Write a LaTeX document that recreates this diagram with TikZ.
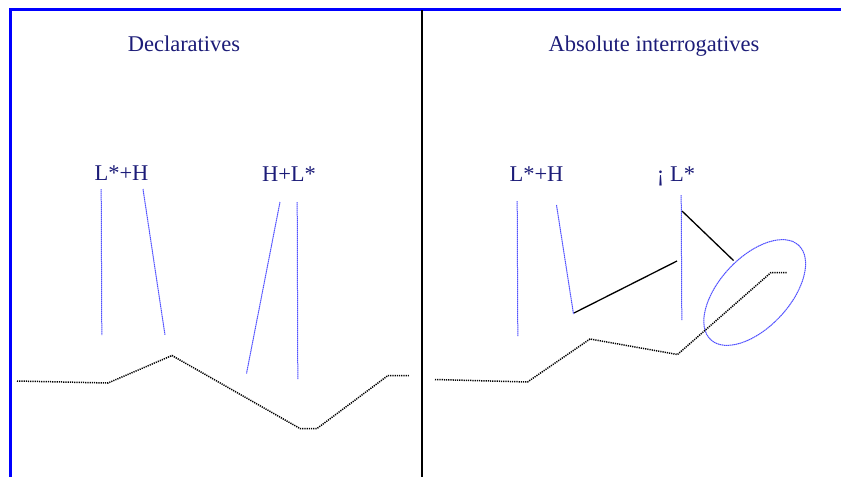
\documentclass[tikz,border=0pt]{standalone}
\usepackage{fontspec}
\setmainfont{Liberation Serif}
\usetikzlibrary{shapes.geometric}
\definecolor{navytxt}{RGB}{28,28,120}
\definecolor{tierblue}{RGB}{80,80,255}
\definecolor{framblue}{RGB}{0,0,255}
\begin{document}
\begin{tikzpicture}[x=1pt,y=-1pt,
  lbl/.style={text=navytxt,font=\fontsize{22.5}{26}\selectfont,anchor=base,inner sep=0pt},
  tier/.style={draw=tierblue,line width=1pt,dash pattern=on 1.5pt off 0.5pt},
  contour/.style={draw=black,line width=1.5pt,dash pattern=on 1.2pt off 1pt},
  link/.style={draw=black,line width=1.3pt},
  frame/.style={draw=framblue,line width=3pt}]
\useasboundingbox (0,0) rectangle (841,477);
% frame
\coordinate (fTR) at (841,9);
\coordinate (fTL) at (10,9);
\coordinate (fBL) at (10,477);
\draw[frame] (fTR) -- (fTL) -- (fBL);
\coordinate (dT) at (422,10);
\coordinate (dB) at (422,477);
\draw[black,line width=2pt] (dT) -- (dB);
% titles
\node[lbl] (t1) at (184,51) {Declaratives};
\node[lbl] (t2) at (654,51) {Absolute interrogatives};
% labels
\node[lbl] (l1) at (121.5,180) {L*+H};
\node[lbl] (l2) at (289,181.5) {H+L*};
\node[lbl] (l3) at (536.5,181.5) {L*+H};
\node[lbl] (l4) at (676,181.5) {¡ L*};
% left tier lines
\coordinate (a1) at (101.2,189); \coordinate (a2) at (101.8,335);
\coordinate (b1) at (143,189); \coordinate (b2) at (165,335);
\coordinate (c1) at (280,202); \coordinate (c2) at (246.5,373.5);
\coordinate (d1) at (297.2,202); \coordinate (d2) at (297.8,379);
\draw[tier] (a1) -- (a2);
\draw[tier] (b1) -- (b2);
\draw[tier] (c1) -- (c2);
\draw[tier] (d1) -- (d2);
% left contour
\coordinate (p1) at (17,381);
\coordinate (p2) at (108,383);
\coordinate (p3) at (172,355.5);
\coordinate (p4) at (300,428.5);
\coordinate (p5) at (317,428.5);
\coordinate (p6) at (388,375.5);
\coordinate (p7) at (409.5,375.5);
\draw[contour] (p1) -- (p2) -- (p3) -- (p4) -- (p5) -- (p6) -- (p7);
% right tier lines
\coordinate (e1) at (517.2,201); \coordinate (e2) at (517.8,336);
\coordinate (f1) at (556.5,205); \coordinate (f2) at (573.5,314);
\coordinate (g1) at (681.2,195); \coordinate (g2) at (681.8,320);
\draw[tier] (e1) -- (e2);
\draw[tier] (f1) -- (f2);
\draw[tier] (g1) -- (g2);
% ellipse
\node[tier,ellipse,inner sep=0pt,minimum width=129pt,minimum height=70pt,rotate=47] (el) at (754.7,292.5) {};
% links
\coordinate (k1) at (574,313); \coordinate (k2) at (677,261);
\coordinate (m1) at (682,211); \coordinate (m2) at (733.5,260.5);
\draw[link] (k1) -- (k2);
\draw[link] (m1) -- (m2);
% right contour
\coordinate (q1) at (435,379.5);
\coordinate (q2) at (527.5,382);
\coordinate (q3) at (590,339);
\coordinate (q4) at (677.5,354.5);
\coordinate (q5) at (771,272.5);
\coordinate (q6) at (787.5,272.5);
\draw[contour] (q1) -- (q2) -- (q3) -- (q4) -- (q5) -- (q6);
\end{tikzpicture}
\end{document}
